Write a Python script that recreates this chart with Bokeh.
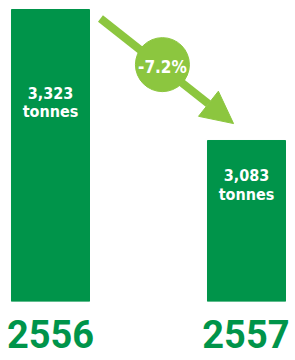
from bokeh.plotting import figure
from bokeh.models import Range1d, FixedTicker, Arrow, NormalHead
from bokeh.core.properties import value
from bokeh.embed import file_html
from bokeh.resources import INLINE

# ---- data ----
years = ["2556", "2557"]
tonnes = [3323, 3083]
bar_labels = ["3,323\ntonnes", "3,083\ntonnes"]
change_label = "-7.2%"

# ---- styles ----
BAR = "#00944a"
LIGHT = "#8cc63f"
COND = value("DejaVu Sans Condensed")
xs = [0, 1]
baseline = 2788
label_offsets = [74, 26]

p = figure(width=289, height=360, output_backend="svg", toolbar_location=None,
           x_range=Range1d(-0.2551, 1.2194), y_range=Range1d(baseline, 3339.5),
           y_axis_location=None, min_border=0, min_border_bottom=59)
p.outline_line_color = None
p.xgrid.visible = False
p.ygrid.visible = False

p.vbar(x=xs, top=tonnes, bottom=baseline, width=0.398, color=BAR)

p.text(x=xs, y=tonnes, text=bar_labels, y_offset=label_offsets,
       text_align="center", text_baseline="top", text_color="white",
       text_font=COND, text_font_style="bold",
       text_font_size="16px", text_line_height=0.95)

# change arrow between bars
x0, x1 = xs
a = Arrow(x_start=x0 + 0.255, y_start=3306.5, x_end=x0 + 0.934, y_end=3114,
          line_color=LIGHT, line_width=8,
          end=NormalHead(size=32, fill_color=LIGHT, line_color=LIGHT))
a.level = "underlay"
p.add_layout(a)

cx, cy = 0.571, 3222
p.scatter(x=[cx], y=[cy], size=54, color=LIGHT)
p.text(x=[cx], y=[cy], text=[change_label], text_align="center",
       text_baseline="middle", text_color="white",
       text_font=COND, text_font_style="bold",
       text_font_size="17px", y_offset=2)

ax = p.xaxis[0]
ax.ticker = FixedTicker(ticks=xs)
ax.major_label_overrides = {0: years[0], 1: years[1]}
ax.axis_line_color = None
ax.major_tick_line_color = None
ax.minor_tick_line_color = None
ax.major_tick_out = 0
ax.major_tick_in = 0
ax.major_label_standoff = 18
ax.major_label_text_font = "Roboto"
ax.major_label_text_font_style = "bold"
ax.major_label_text_font_size = "38px"
ax.major_label_text_color = BAR

open("out.html", "w").write(file_html(p, INLINE))
